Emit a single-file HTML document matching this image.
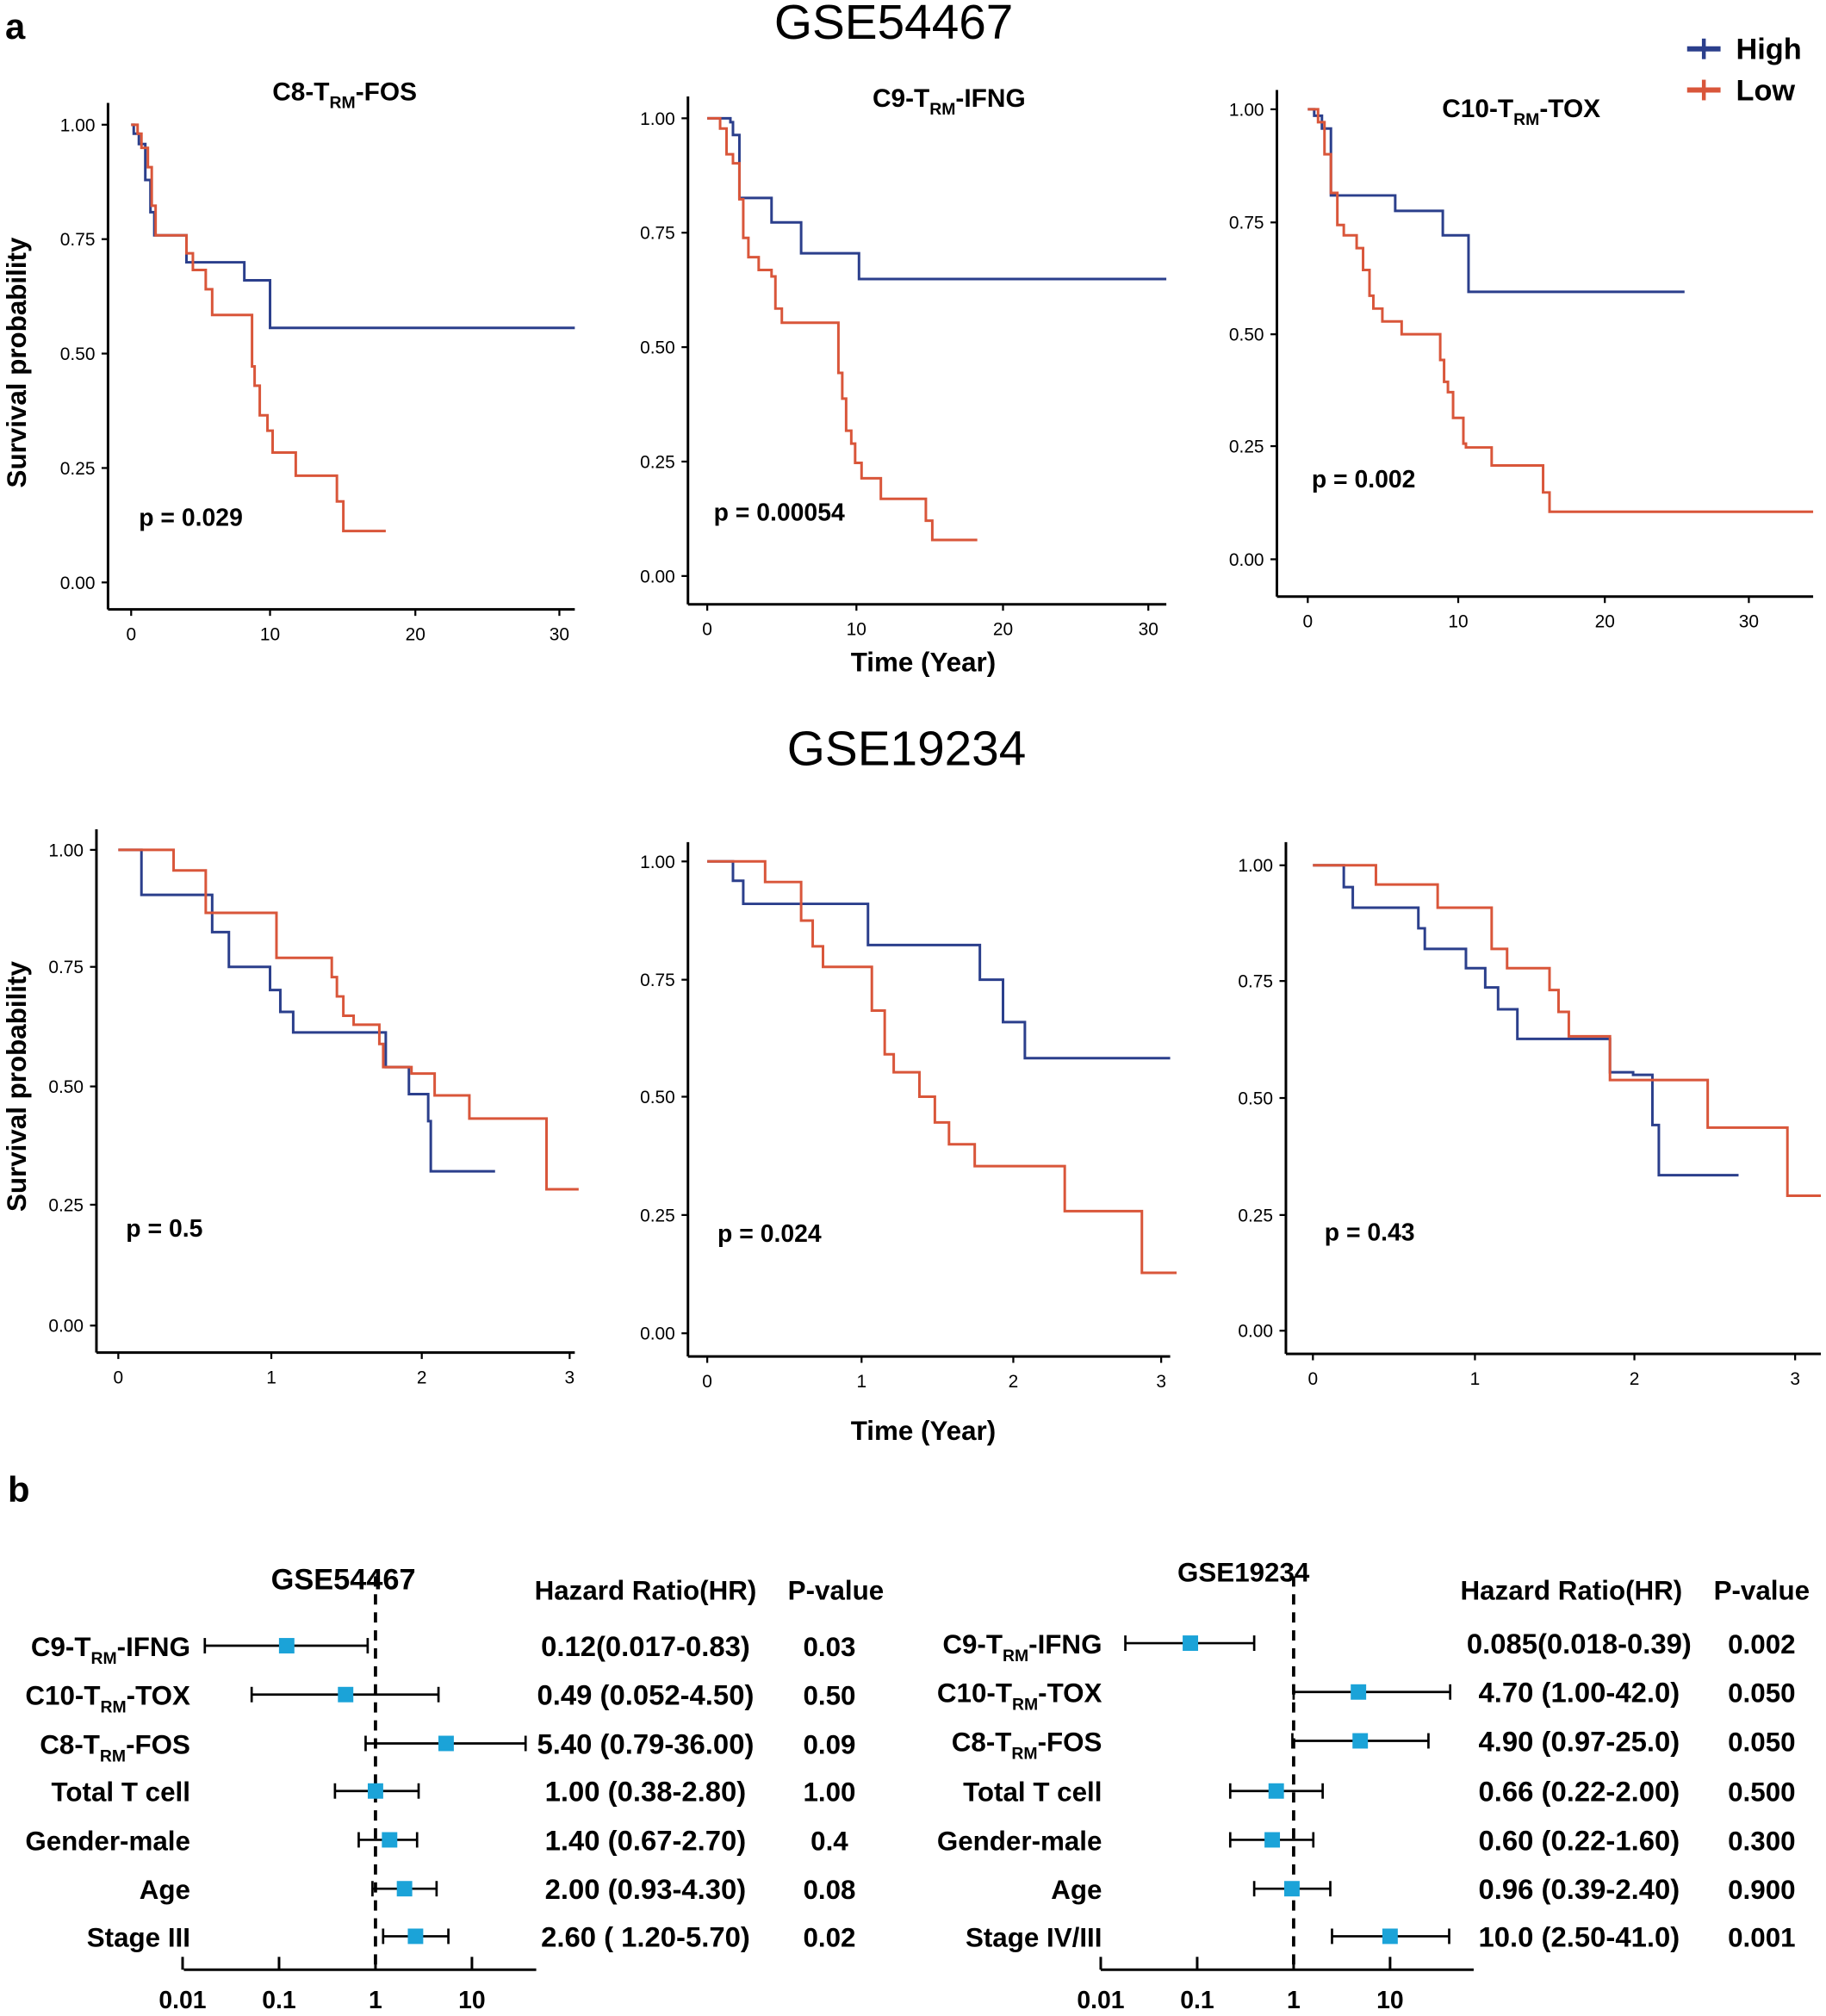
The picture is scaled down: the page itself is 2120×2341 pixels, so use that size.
<!DOCTYPE html>
<html><head><meta charset="utf-8"><style>
html,body{margin:0;padding:0;background:#fff}
svg{display:block}
text{font-family:"Liberation Sans",Arial,sans-serif}
.b{font-weight:bold}
</style></head><body>
<svg id="s" width="2120" height="2341" viewBox="0 0 1420 1568" preserveAspectRatio="none" xmlns="http://www.w3.org/2000/svg">
<rect width="1420" height="1568" fill="#fff"/>
<text x="4" y="30" class="b" font-size="28">a</text>
<text x="695" y="30" text-anchor="middle" font-size="38">GSE54467</text>
<text x="705" y="595" text-anchor="middle" font-size="38">GSE19234</text>
<text x="6" y="1168" class="b" font-size="28">b</text>
<line x1="1312" y1="38" x2="1338" y2="38" stroke="#2b3f8c" stroke-width="4"/><line x1="1325" y1="30" x2="1325" y2="46" stroke="#2b3f8c" stroke-width="3"/>
<text x="1350" y="46" class="b" font-size="23">High</text>
<line x1="1312" y1="70" x2="1338" y2="70" stroke="#d9563a" stroke-width="4"/><line x1="1325" y1="62" x2="1325" y2="78" stroke="#d9563a" stroke-width="3"/>
<text x="1350" y="78" class="b" font-size="23">Low</text>
<text x="20" y="282" class="b" font-size="21" transform="rotate(-90 20 282)" text-anchor="middle">Survival probability</text>
<text x="20" y="845" class="b" font-size="21" transform="rotate(-90 20 845)" text-anchor="middle">Survival probability</text>
<text x="718" y="522" class="b" font-size="21" text-anchor="middle">Time (Year)</text>
<text x="718" y="1120" class="b" font-size="21" text-anchor="middle">Time (Year)</text>
<text x="268" y="78" class="b" font-size="20" text-anchor="middle">C8-T<tspan font-size="13" dy="6">RM</tspan><tspan dy="-6">-FOS</tspan></text>
<text x="738" y="83" class="b" font-size="20" text-anchor="middle">C9-T<tspan font-size="13" dy="6">RM</tspan><tspan dy="-6">-IFNG</tspan></text>
<text x="1183" y="91" class="b" font-size="20" text-anchor="middle">C10-T<tspan font-size="13" dy="6">RM</tspan><tspan dy="-6">-TOX</tspan></text>
<text x="108" y="409" class="b" font-size="19">p = 0.029</text>
<text x="555" y="405" class="b" font-size="19">p = 0.00054</text>
<text x="1020" y="379" class="b" font-size="19">p = 0.002</text>
<text x="98" y="962" class="b" font-size="19">p = 0.5</text>
<text x="558" y="966" class="b" font-size="19">p = 0.024</text>
<text x="1030" y="965" class="b" font-size="19">p = 0.43</text>
<g id="plots"></g>
<g id="forest"></g>
<text x="267" y="1236" class="b" font-size="23" text-anchor="middle">GSE54467</text>
<text x="967" y="1230" class="b" font-size="21" text-anchor="middle">GSE19234</text>
<text x="502" y="1244" class="b" font-size="21" text-anchor="middle">Hazard Ratio(HR)</text>
<text x="650" y="1244" class="b" font-size="21" text-anchor="middle">P-value</text>
<text x="1222" y="1244" class="b" font-size="21" text-anchor="middle">Hazard Ratio(HR)</text>
<text x="1370" y="1244" class="b" font-size="21" text-anchor="middle">P-value</text>
</svg>
<script>
const NS="http://www.w3.org/2000/svg";
function el(p,t,a,txt){const e=document.createElementNS(NS,t);for(const k in a)e.setAttribute(k,a[k]);if(txt!==undefined)e.textContent=txt;p.appendChild(e);return e;}
const G=document.getElementById('plots');
function axes(yx,yTop,xy,xEnd,yt,xt){
 el(G,'line',{x1:yx,y1:yTop,x2:yx,y2:xy,stroke:'#000','stroke-width':2});
 el(G,'line',{x1:yx,y1:xy,x2:xEnd,y2:xy,stroke:'#000','stroke-width':2});
 const yl=['1.00','0.75','0.50','0.25','0.00'];
 yt.forEach((y,i)=>{el(G,'line',{x1:yx-5,y1:y,x2:yx,y2:y,stroke:'#000','stroke-width':1.5});el(G,'text',{x:yx-10,y:y+5,'text-anchor':'end','font-size':14},yl[i]);});
 xt.forEach(([x,l])=>{el(G,'line',{x1:x,y1:xy,x2:x,y2:xy+5,stroke:'#000','stroke-width':1.5});el(G,'text',{x:x,y:xy+24,'text-anchor':'middle','font-size':14},l);});
}
function step(pts,c){let d='M'+pts[0][0]+' '+pts[0][1];for(let i=1;i<pts.length;i++){d+=' H'+pts[i][0]+' V'+pts[i][1];}
 el(G,'path',{d:d,fill:'none',stroke:c,'stroke-width':2});}
const B='#2b3f8c',R='#d9563a';
axes(84,80,474,447,[97,186,275,364,453],[[102,'0'],[210,'10'],[323,'20'],[435,'30']]);
step([[102,97],[104,104],[108,112],[113,140],[117,165],[120,183],[145,204],[190,218],[210,255],[447,255]],B);
step([[102,97],[107,104],[110,115],[115,130],[118,160],[121,183],[140,183],[145,197],[150,210],[160,225],[165,245],[193,245],[196,285],[198,300],[202,323],[208,335],[212,352],[230,370],[258,370],[262,390],[267,413],[300,413]],R);
axes(535,75,470,907,[92,181,270,359,448],[[550,'0'],[666,'10'],[780,'20'],[893,'30']]);
step([[550,92],[568,95],[570,105],[575,154],[598,154],[600,173],[620,173],[623,197],[650,197],[668,217],[907,217]],B);
step([[550,92],[560,100],[565,120],[570,127],[575,155],[578,185],[582,200],[590,210],[600,215],[603,240],[608,251],[648,251],[652,290],[655,310],[658,335],[662,345],[665,360],[670,372],[685,388],[715,388],[720,405],[725,420],[760,420]],R);
axes(993,70,464,1410,[85,173,260,347,435],[[1017,'0'],[1134,'10'],[1248,'20'],[1360,'30']]);
step([[1017,85],[1022,90],[1028,100],[1035,152],[1080,152],[1085,164],[1120,164],[1122,183],[1140,183],[1142,227],[1310,227]],B);
step([[1017,85],[1025,95],[1030,120],[1035,150],[1040,175],[1045,183],[1055,193],[1060,210],[1065,230],[1068,240],[1075,250],[1090,260],[1118,260],[1120,280],[1123,297],[1126,305],[1130,325],[1138,345],[1140,348],[1160,362],[1195,362],[1200,383],[1205,398],[1410,398]],R);
axes(75,645,1052,447,[661,752,845,937,1031],[[92,'0'],[211,'1'],[328,'2'],[443,'3']]);
step([[92,661],[110,696],[165,725],[178,752],[210,770],[218,787],[228,803],[295,803],[300,830],[315,830],[318,851],[333,872],[335,911],[385,911]],B);
step([[92,661],[135,677],[160,710],[170,710],[215,745],[258,760],[262,775],[267,790],[275,797],[295,812],[298,830],[320,835],[338,852],[365,870],[425,925],[450,925]],R);
axes(535,655,1055,910,[670,762,853,945,1037],[[550,'0'],[670,'1'],[788,'2'],[903,'3']]);
step([[550,670],[570,685],[578,703],[670,703],[675,735],[760,735],[762,762],[778,762],[780,795],[795,795],[797,823],[910,823]],B);
step([[550,670],[595,686],[623,716],[632,736],[640,752],[673,752],[678,786],[688,820],[695,834],[715,853],[727,873],[738,890],[758,907],[800,907],[828,942],[888,942],[888,990],[915,990]],R);
axes(1000,655,1053,1416,[673,763,854,945,1035],[[1021,'0'],[1147,'1'],[1271,'2'],[1396,'3']]);
step([[1021,673],[1045,690],[1052,706],[1100,706],[1103,722],[1108,738],[1140,753],[1155,768],[1165,785],[1180,808],[1250,808],[1252,834],[1270,836],[1285,875],[1290,914],[1352,914]],B);
step([[1021,673],[1070,688],[1118,706],[1160,738],[1172,753],[1205,770],[1212,787],[1220,806],[1245,806],[1252,840],[1298,840],[1328,877],[1390,877],[1390,930],[1416,930]],R);

const F=document.getElementById('forest');
function forest(x1,ax0,labX,hrX,pX,rows){
 const lx=v=>x1+75*Math.log10(v);
 el(F,'line',{x1:ax0,y1:1532,x2:ax0+(x1===292?274:290),y2:1532,stroke:'#000','stroke-width':2});
 [[0.01,'0.01'],[0.1,'0.1'],[1,'1'],[10,'10']].forEach(([v,l])=>{const x=lx(v);el(F,'line',{x1:x,y1:1532,x2:x,y2:1522,stroke:'#000','stroke-width':2});el(F,'text',{x:x,y:1562,'text-anchor':'middle','font-size':19,'font-weight':'bold'},l);});
 el(F,'line',{x1:x1,y1:1226,x2:x1,y2:1532,stroke:'#000','stroke-width':2.5,'stroke-dasharray':'8,6'});
 rows.forEach(r=>{const [y,lab,hr,lo,hi,hrt,pt]=r;
  const t=el(F,'text',{x:labX,y:y+8,'text-anchor':'end','font-size':21,'font-weight':'bold'});
  if(lab.indexOf('|')>=0){const [a,b]=lab.split('|');t.appendChild(document.createTextNode(a+'T'));el(t,'tspan',{'font-size':13,dy:6},'RM');el(t,'tspan',{dy:-6},b);}else t.textContent=lab;
  el(F,'line',{x1:lx(lo),y1:y,x2:lx(hi),y2:y,stroke:'#000','stroke-width':1.8});
  el(F,'line',{x1:lx(lo),y1:y-6,x2:lx(lo),y2:y+6,stroke:'#000','stroke-width':1.8});
  el(F,'line',{x1:lx(hi),y1:y-6,x2:lx(hi),y2:y+6,stroke:'#000','stroke-width':1.8});
  el(F,'rect',{x:lx(hr)-6,y:y-6,width:12,height:12,fill:'#1ba3d8'});
  el(F,'text',{x:hrX,y:y+8,'text-anchor':'middle','font-size':22,'font-weight':'bold'},hrt);
  el(F,'text',{x:pX,y:y+8,'text-anchor':'middle','font-size':21,'font-weight':'bold'},pt);
 });
}
forest(292,143,148,502,645,[
[1280,'C9-|-IFNG',0.12,0.017,0.83,'0.12(0.017-0.83)','0.03'],
[1318,'C10-|-TOX',0.49,0.052,4.5,'0.49 (0.052-4.50)','0.50'],
[1356,'C8-|-FOS',5.4,0.79,36,'5.40 (0.79-36.00)','0.09'],
[1393,'Total T cell',1,0.38,2.8,'1.00 (0.38-2.80)','1.00'],
[1431,'Gender-male',1.4,0.67,2.7,'1.40 (0.67-2.70)','0.4'],
[1469,'Age',2,0.93,4.3,'2.00 (0.93-4.30)','0.08'],
[1506,'Stage III',2.6,1.2,5.7,'2.60 ( 1.20-5.70)','0.02']]);
forest(1006,856,857,1228,1370,[
[1278,'C9-|-IFNG',0.085,0.018,0.39,'0.085(0.018-0.39)','0.002'],
[1316,'C10-|-TOX',4.7,1.0,42,'4.70 (1.00-42.0)','0.050'],
[1354,'C8-|-FOS',4.9,0.97,25,'4.90 (0.97-25.0)','0.050'],
[1393,'Total T cell',0.66,0.22,2,'0.66 (0.22-2.00)','0.500'],
[1431,'Gender-male',0.6,0.22,1.6,'0.60 (0.22-1.60)','0.300'],
[1469,'Age',0.96,0.39,2.4,'0.96 (0.39-2.40)','0.900'],
[1506,'Stage IV/III',10,2.5,41,'10.0 (2.50-41.0)','0.001']]);
</script>
</body></html>
